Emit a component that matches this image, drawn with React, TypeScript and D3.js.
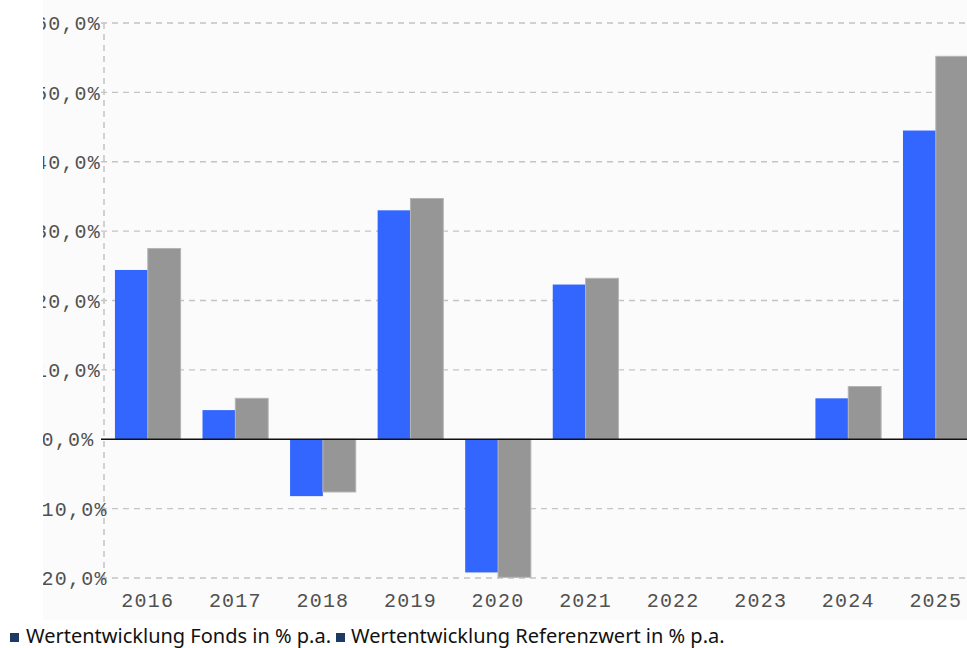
import { FC, useMemo } from 'react';
import * as d3 from 'd3';

const years = ['2016', '2017', '2018', '2019', '2020', '2021', '2022', '2023', '2024', '2025'];
const fonds: (number | null)[] = [24.4, 4.2, -8.2, 33.0, -19.2, 22.3, null, null, 5.9, 44.5];
const referenz: (number | null)[] = [27.5, 5.9, -7.6, 34.7, -19.9, 23.2, null, null, 7.6, 55.2];
const yTicks = [-20, -10, 0, 10, 20, 30, 40, 50, 60];
const legendLabels = ['Wertentwicklung Fonds in % p.a.', 'Wertentwicklung Referenzwert in % p.a.'];

const WIDTH = 967;
const HEIGHT = 648;
const AXIS_X = 104;
const BLUE = '#3366ff';
const GREY = '#969696';

const fmt = (v: number) => v.toFixed(1).replace('.', ',') + '%';

const App: FC = () => {
  const yScale = useMemo(() => d3.scaleLinear().domain([-20, 60]).range([578, 23]), []);

  const xScale = useMemo(
    () => d3.scaleBand<string>().domain(years).range([AXIS_X, AXIS_X + 10 * 87.56]).paddingInner(0.25).paddingOuter(0.125),
    []
  );

  const inner = useMemo(
    () => d3.scaleBand<string>().domain(['fonds', 'referenz']).range([0, xScale.bandwidth()]),
    [xScale]
  );

  const series = [
    { key: 'fonds', values: fonds, color: BLUE, stroke: 'none' },
    { key: 'referenz', values: referenz, color: GREY, stroke: '#b4b4b4' },
  ];

  const y0 = yScale(0);

  return (
    <svg width={WIDTH} height={HEIGHT} style={{ position: 'absolute', left: 0, top: 0, background: '#fff' }}>
      <defs>
        <clipPath id="chartClip">
          <rect x={43} y={0} width={WIDTH - 43} height={620} />
        </clipPath>
      </defs>
      <g clipPath="url(#chartClip)">
        <rect x={43} y={0} width={WIDTH - 43} height={620} fill="#fbfbfb" />

        {/* grid */}
        {yTicks.filter((t) => t !== 0).map((t) => (
          <line key={t} x1={AXIS_X - 3} x2={WIDTH} y1={yScale(t)} y2={yScale(t)} stroke="#c4c4c4" strokeWidth={1.3} strokeDasharray="6,5" />
        ))}
        <line x1={AXIS_X} x2={AXIS_X} y1={yScale(60)} y2={yScale(-20) + 4} stroke="#c4c4c4" strokeWidth={1.5} strokeDasharray="6,5" />

        {/* y labels */}
        {yTicks.map((t) => (
          <text
            key={t}
            x={68}
            y={yScale(t)}
            dy="0.36em"
            textAnchor="middle"
            fontFamily="'Liberation Mono', monospace"
            fontSize={20}
            letterSpacing={1.2}
            fill="#505050"
          >
            {fmt(t)}
          </text>
        ))}

        {/* bars */}
        {series.map((s) =>
          years.map((yr, i) => {
            const v = s.values[i];
            if (v === null) return null;
            const x = (xScale(yr) ?? 0) + (inner(s.key) ?? 0);
            const y = yScale(Math.max(0, v));
            const h = Math.abs(yScale(v) - y0);
            return <rect key={s.key + yr} x={x} y={y} width={inner.bandwidth()} height={h} fill={s.color} stroke={s.stroke} strokeWidth={1} />;
          })
        )}

        {/* zero line */}
        <line x1={AXIS_X - 3} x2={WIDTH} y1={y0} y2={y0} stroke="#111" strokeWidth={1.6} />

        {/* x labels */}
        {years.map((yr) => (
          <text
            key={yr}
            x={(xScale(yr) ?? 0) + xScale.bandwidth() / 2}
            y={607}
            textAnchor="middle"
            fontFamily="'Liberation Mono', monospace"
            fontSize={20}
            letterSpacing={1.2}
            fill="#505050"
          >
            {yr}
          </text>
        ))}
      </g>

      {/* legend */}
      <g fontFamily="'Noto Sans', sans-serif" fontSize={20} fill="#111">
        <rect x={10} y={633} width={9} height={9} fill="#1c3a64" />
        <text x={26} y={643}>{legendLabels[0]}</text>
        <rect x={336} y={633} width={9} height={9} fill="#1c3a64" />
        <text x={351} y={643}>{legendLabels[1]}</text>
      </g>
    </svg>
  );
};

export default App;
